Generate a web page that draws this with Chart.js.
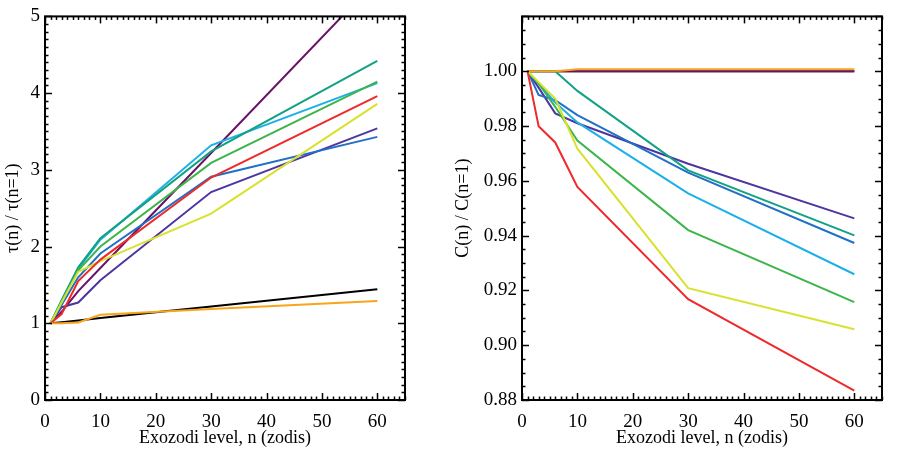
<!DOCTYPE html>
<html lang="en">
<head>
<meta charset="UTF-8">
<title>Exozodi level dependence</title>
<script src="https://cdn.jsdelivr.net/npm/chart.js@4"></script>
<style>
  html, body { margin: 0; padding: 0; background: #fff; }
  .panel { position: absolute; top: 0; width: 450px; height: 450px; }
  #left { left: 0; }
  #right { left: 450px; }
</style>
</head>
<body>
<div class="panel" id="left"><canvas id="tauChart" width="450" height="450"></canvas></div>
<div class="panel" id="right"><canvas id="compChart" width="450" height="450"></canvas></div>

<script>
// exozodi levels (zodis)
const nLevels = [1, 3, 6, 10, 30, 60];

// left panel: tau(n) / tau(n=1)
const tauBlack  = [1, 1.015, 1.037, 1.07, 1.22, 1.445];
const tauMaroon = [1, 1.15, 1.42, 1.72, 3.22, 5.48];
const tauIndigo = [1, 1.21, 1.27, 1.56, 2.71, 3.54];
const tauBlue   = [1, 1.24, 1.60, 1.91, 2.91, 3.43];
const tauCyan   = [1, 1.29, 1.71, 2.09, 3.32, 4.13];
const tauTeal   = [1, 1.30, 1.73, 2.11, 3.24, 4.42];
const tauGreen  = [1, 1.28, 1.69, 2.00, 3.09, 4.15];
const tauYellow = [1, 1.27, 1.67, 1.81, 2.43, 3.86];
const tauRed    = [1, 1.12, 1.55, 1.83, 2.90, 3.96];
const tauOrange = [1, 1.00, 1.01, 1.11, 1.185, 1.29];

// right panel: C(n) / C(n=1)
const cBlack  = [1, 1, 1, 1, 1, 1];
const cMaroon = [1, 1, 1, 1, 1, 1];
const cIndigo = [1, 0.994, 0.9846, 0.981, 0.9662, 0.9463];
const cBlue   = [1, 0.9913, 0.9894, 0.984, 0.9630, 0.9373];
const cCyan   = [1, 0.9955, 0.9886, 0.9813, 0.9554, 0.9259];
const cTeal   = [1, 1, 1, 0.9928, 0.9638, 0.9401];
const cGreen  = [1, 0.9955, 0.987, 0.9747, 0.9420, 0.9157];
const cYellow = [1, 0.996, 0.990, 0.9717, 0.9208, 0.9058];
const cRed    = [1, 0.9799, 0.974, 0.9578, 0.9168, 0.8834];
const cOrange = [1, 1, 1, 1.0007, 1.0007, 1.0007];

// tick labels
const xTicks = [0, 10, 20, 30, 40, 50, 60];
const tauTicks = [0, 1, 2, 3, 4, 5];
const cTicks = [0.88, 0.90, 0.92, 0.94, 0.96, 0.98, 1.00];

const colors = ['#000000', '#6b1268', '#4e36a0', '#1f70c6', '#1cb0e8',
                '#12a283', '#3db54b', '#d8e22c', '#ee2a2a', '#f8a41c'];

const FONT = '"Liberation Serif", "DejaVu Serif", serif';

function mkDatasets(series) {
  return series.map((vals, i) => ({
    data: vals.map((v, k) => ({ x: nLevels[k], y: v })),
    borderColor: colors[i],
    borderWidth: 2,
    pointRadius: 0,
    tension: 0,
    fill: false,
    order: series.length - i   // first series drawn first, last on top
  }));
}

// box with inward major/minor ticks on all four sides
const framePlugin = {
  id: 'frame',
  afterDatasetsDraw(chart, args, o) {
    const { ctx, chartArea: a, scales: { x, y } } = chart;
    ctx.save();
    ctx.strokeStyle = '#000';
    ctx.lineWidth = 1.5;
    const seg = (x1, y1, x2, y2) => { ctx.beginPath(); ctx.moveTo(x1, y1); ctx.lineTo(x2, y2); ctx.stroke(); };
    const nx = Math.round((x.max - x.min) / o.xMinor);
    for (let i = 0; i <= nx; i++) {
      const v = x.min + i * o.xMinor;
      const len = Math.abs(v / o.xMajor - Math.round(v / o.xMajor)) < 1e-6 ? 7 : 3.5;
      const px = Math.round(x.getPixelForValue(v)) + 0.5;
      seg(px, a.bottom, px, a.bottom - len);
      seg(px, a.top, px, a.top + len);
    }
    const ny = Math.round((y.max - y.min) / o.yMinor);
    for (let i = 0; i <= ny; i++) {
      const v = y.min + i * o.yMinor;
      const r = (v - o.yBase) / o.yMajor;
      const len = Math.abs(r - Math.round(r)) < 1e-6 ? 7 : 3.5;
      const py = Math.round(y.getPixelForValue(v)) + 0.5;
      seg(a.left, py, a.left + len, py);
      seg(a.right, py, a.right - len, py);
    }
    ctx.lineWidth = 2;
    ctx.strokeRect(a.left, a.top, a.right - a.left, a.bottom - a.top);
    ctx.restore();
  }
};

function makeChart(id, series, cfg) {
  return new Chart(document.getElementById(id), {
    type: 'line',
    data: { datasets: mkDatasets(series) },
    plugins: [framePlugin],
    options: {
      responsive: false,
      animation: false,
      layout: { padding: { top: 13, right: cfg.padRight, left: 0, bottom: 0 } },
      plugins: {
        legend: { display: false },
        tooltip: { enabled: false },
        frame: cfg.frame
      },
      scales: {
        x: {
          type: 'linear',
          min: 0, max: 65,
          afterBuildTicks: s => { s.ticks = xTicks.map(v => ({ value: v })); },
          afterFit: s => { s.height = 50; },
          grid: { display: false, drawTicks: false },
          border: { display: false },
          ticks: { color: '#000', padding: 11, font: { family: FONT, size: 19 } },
          title: { display: true, text: 'Exozodi level, n (zodis)', color: '#000',
                   padding: { top: 0, bottom: 1 }, font: { family: FONT, size: 18 } }
        },
        y: {
          type: 'linear',
          min: cfg.yMin, max: cfg.yMax,
          afterBuildTicks: s => { s.ticks = cfg.yTicks.map(v => ({ value: v })); },
          afterFit: s => { s.width = cfg.yWidth; },
          grid: { display: false, drawTicks: false },
          border: { display: false },
          ticks: { color: '#000', padding: 5, font: { family: FONT, size: 19 },
                   callback: cfg.fmt },
          title: { display: true, text: cfg.yTitle, color: '#000',
                   padding: { top: 2, bottom: 0 }, font: { family: FONT, size: 18 } }
        }
      }
    }
  });
}

makeChart('tauChart',
  [tauBlack, tauMaroon, tauIndigo, tauBlue, tauCyan, tauTeal, tauGreen, tauYellow, tauRed, tauOrange],
  { yMin: 0, yMax: 5, yTicks: tauTicks, yWidth: 45, padRight: 45,
    yTitle: 'τ(n) / τ(n=1)', fmt: v => String(v),
    frame: { xMinor: 1, xMajor: 10, yMinor: 0.1, yMajor: 1, yBase: 0 } });

makeChart('compChart',
  [cBlack, cMaroon, cIndigo, cBlue, cCyan, cTeal, cGreen, cYellow, cRed, cOrange],
  { yMin: 0.88, yMax: 1.02, yTicks: cTicks, yWidth: 72, padRight: 18,
    yTitle: 'C(n) / C(n=1)', fmt: v => v.toFixed(2),
    frame: { xMinor: 1, xMajor: 10, yMinor: 0.005, yMajor: 0.02, yBase: 0.88 } });
</script>
</body>
</html>
